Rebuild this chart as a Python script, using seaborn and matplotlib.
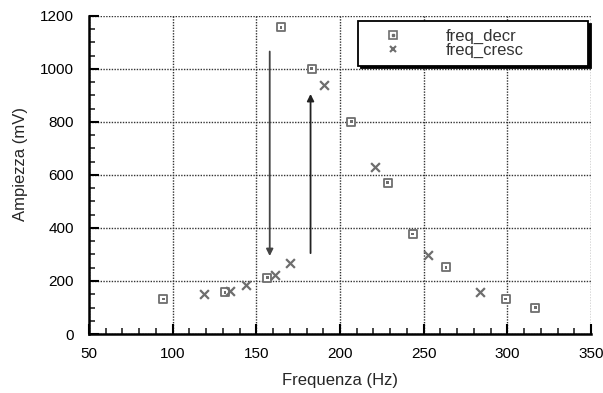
import matplotlib
matplotlib.use("Agg")
import matplotlib.pyplot as plt
import seaborn as sns
import pandas as pd
from matplotlib.ticker import MultipleLocator
from matplotlib.lines import Line2D
from matplotlib.legend_handler import HandlerTuple

decr_freq = [94.3, 131.3, 156.5, 164.8, 183.0, 206.7, 228.4, 243.4, 263.3, 299.0, 316.6]
decr_amp = [132, 158, 212, 1157, 1000, 800, 571, 377, 252, 132, 99]
cresc_freq = [119.0, 134.1, 143.9, 161.4, 170.4, 190.4, 221.0, 252.3, 283.9]
cresc_amp = [152, 162, 185, 224, 268, 937, 629, 298, 158]
series_names = ["freq_decr", "freq_cresc"]
x_ticks = [50, 100, 150, 200, 250, 300, 350]
y_ticks = [0, 200, 400, 600, 800, 1000, 1200]
# annotation arrows: (x, y_start, y_end)
arrow_down = (158, 1065, 294)
arrow_up = (182.4, 305, 905)

df = pd.DataFrame({
    "freq": decr_freq + cresc_freq,
    "amp": decr_amp + cresc_amp,
    "serie": [series_names[0]] * len(decr_freq) + [series_names[1]] * len(cresc_freq),
})

sns.set_style("white")
plt.rcParams["font.family"] = ["Liberation Sans", "DejaVu Sans"]

fig = plt.figure(figsize=(6.03, 3.93), dpi=100)
ax = fig.add_axes([0.1476, 0.150, 0.8325, 0.810])

gray = "#6e6e6e"
d1 = df[df.serie == series_names[0]]
d2 = df[df.serie == series_names[1]]
sns.scatterplot(data=d1, x="freq", y="amp", marker="s", s=38, facecolor="white",
                edgecolor=gray, linewidth=1.3, ax=ax, zorder=5)
sns.scatterplot(data=d1, x="freq", y="amp", marker="s", s=4, color=gray,
                edgecolor="none", linewidth=0, ax=ax, zorder=6)
sns.scatterplot(data=d2, x="freq", y="amp", marker="x", s=40, color=gray,
                linewidth=1.6, ax=ax, zorder=5)

ax.set_xlim(50, 350)
ax.set_ylim(0, 1200)
ax.set_xticks(x_ticks)
ax.set_yticks(y_ticks)
ax.xaxis.set_minor_locator(MultipleLocator(10))
ax.yaxis.set_minor_locator(MultipleLocator(50))
ax.tick_params(which="major", direction="in", length=7, width=1.5, labelsize=11,
               colors="black", top=False, right=False, bottom=True, left=True)
ax.tick_params(which="minor", direction="in", length=4, width=1.2,
               bottom=True, left=True)
ax.tick_params(axis="x", pad=9)
ax.tick_params(axis="y", pad=11)
ax.grid(True, which="major", color="#333333", linestyle=(0, (1, 1)), linewidth=1.0)
ax.set_axisbelow(True)
for s in ["left", "bottom"]:
    ax.spines[s].set_color("black")
    ax.spines[s].set_linewidth(1.8)
for s in ["top", "right"]:
    ax.spines[s].set_visible(False)

ax.set_xlabel("Frequenza (Hz)", fontsize=12, labelpad=9)
ax.set_ylabel("Ampiezza (mV)", fontsize=12, labelpad=6)
ax.yaxis.set_label_coords(-0.122, 0.535)

ax.annotate("", xy=(arrow_down[0], arrow_down[2]), xytext=(arrow_down[0], arrow_down[1]),
            arrowprops=dict(arrowstyle="-|>", color="#444444", lw=1.3, mutation_scale=10,
                            shrinkA=0, shrinkB=0))
ax.annotate("", xy=(arrow_up[0], arrow_up[2]), xytext=(arrow_up[0], arrow_up[1]),
            arrowprops=dict(arrowstyle="-|>", color="#222222", lw=1.3, mutation_scale=10,
                            shrinkA=0, shrinkB=0))

h_sq = Line2D([], [], marker="s", markersize=5.5, markerfacecolor="white",
              markeredgecolor=gray, markeredgewidth=1.2, linestyle="none")
h_dot = Line2D([], [], marker="s", markersize=1.5, color=gray, linestyle="none")
h_x = Line2D([], [], marker="x", markersize=5, color=gray, markeredgewidth=1.5,
             linestyle="none")
leg = ax.legend([(h_sq, h_dot), h_x], series_names,
                handler_map={tuple: HandlerTuple(ndivide=1, pad=0)},
                loc="upper left", bbox_to_anchor=(0.536, 0.83, 0.458, 0.153),
                mode="expand", fontsize=12,
                frameon=True, fancybox=False,
                shadow={"color": "black", "alpha": 1.0},
                borderpad=0.45, labelspacing=-0.05, handletextpad=1.5,
                borderaxespad=0.0, handlelength=3.3)
frame = leg.get_frame()
frame.set_edgecolor("black")
frame.set_linewidth(1.3)
frame.set_facecolor("white")
frame.set_alpha(1.0)
for t in leg.get_texts():
    t.set_color("#333333")
leg.set_zorder(10)

fig.savefig("out.png", dpi=100)
